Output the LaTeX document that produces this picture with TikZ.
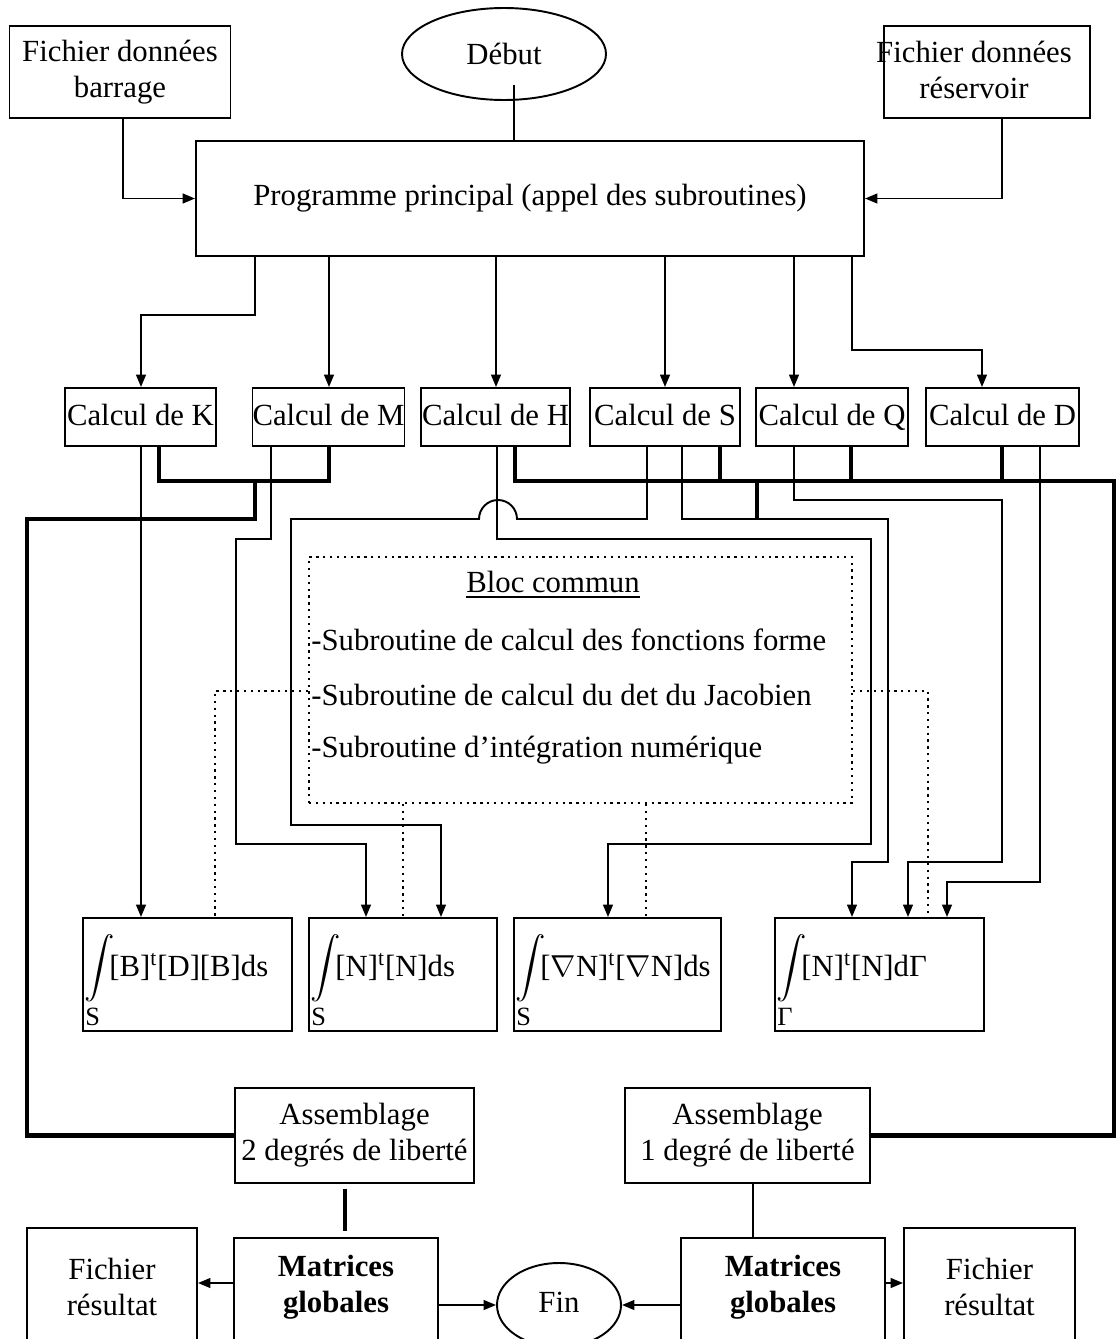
\documentclass[tikz,border=0pt]{standalone}
\usepackage{amsmath}
\usepackage{fontspec}
\setmainfont{Liberation Serif}
\usetikzlibrary{shapes.geometric,arrows.meta,calc}
\begin{document}
\begin{tikzpicture}[x=0.02cm,y=-0.02cm,
  every node/.style={font=\fontsize{17.5}{20.5}\selectfont},
  box/.style={draw, line width=1.1pt, inner sep=0pt, align=center},
  calcbox/.style={box, minimum height=58*0.02cm, text height=0.95em, text depth=0em},
  conn/.style={line width=1.1pt},
  arr/.style={line width=1.1pt, -{Triangle[length=7pt,width=5.5pt]}},
  bold/.style={line width=2.8pt},
  dotl/.style={line width=1.3pt, dash pattern=on 1.3pt off 2.6pt},
  txt/.style={inner sep=0pt, align=center},
  sub/.style={anchor=west, inner sep=0pt, font=\fontsize{15}{15}\selectfont}
]
\useasboundingbox (0,0) rectangle (1117,1339);
\clip (0,0) rectangle (1117,1339);

% top row
\node[box, minimum width=221*0.02cm, minimum height=92*0.02cm] (bar) at (120,72) {Fichier données\\barrage};
\node[ellipse, draw, line width=1.1pt, inner sep=0pt, minimum width=204*0.02cm, minimum height=92*0.02cm] (deb) at (504,54) {Début};
\node[box, minimum width=206*0.02cm, minimum height=92*0.02cm] (res) at (987,72) {};
\node[txt] (rest) at (974,70) {Fichier données\\réservoir};
\node[box, minimum width=668*0.02cm, minimum height=115*0.02cm] (prog) at (530,198.5) {Programme principal (appel des subroutines)};

% calcul row
\node[calcbox, minimum width=151*0.02cm] (K) at (140.5,417) {Calcul de K};
\node[calcbox, minimum width=149*0.02cm] (M) at (328.5,417) {Calcul de M};
\node[calcbox, minimum width=149*0.02cm] (H) at (495.5,417) {Calcul de H};
\node[calcbox, minimum width=150*0.02cm] (S) at (665,417) {Calcul de S};
\node[calcbox, minimum width=152*0.02cm] (Q) at (832,417) {Calcul de Q};
\node[calcbox, minimum width=153*0.02cm] (D) at (1002.5,417) {Calcul de D};

% bloc commun
\node[draw, dotl, inner sep=0pt, minimum width=543*0.02cm, minimum height=246*0.02cm] (bloc) at (580.5,680) {};
\node[txt] (bt) at (553,585) {\underline{Bloc commun}};
\node[anchor=west, inner sep=0pt] (l1) at (311,640) {-Subroutine de calcul des fonctions forme};
\node[anchor=west, inner sep=0pt] (l2) at (311,695) {-Subroutine de calcul du det du Jacobien};
\node[anchor=west, inner sep=0pt] (l3) at (311,750) {-Subroutine d'intégration numérique};

% integral boxes
\node[box, minimum width=209*0.02cm, minimum height=113*0.02cm] (B1) at (187.5,974.5) {};
\node[box, minimum width=188*0.02cm, minimum height=113*0.02cm] (B2) at (403,974.5) {};
\node[box, minimum width=207*0.02cm, minimum height=113*0.02cm] (B3) at (617.5,974.5) {};
\node[box, minimum width=209*0.02cm, minimum height=113*0.02cm] (B4) at (879.5,974.5) {};
\node[anchor=west, inner sep=0pt] (B1t) at ($(B1.west)+(2,-6)$) {$\displaystyle\int$\kern-3pt[B]\textsuperscript{t}[D][B]ds};
\node[anchor=west, inner sep=0pt] (B2t) at ($(B2.west)+(2,-6)$) {$\displaystyle\int$\kern-3pt[N]\textsuperscript{t}[N]ds};
\node[anchor=west, inner sep=0pt] (B3t) at ($(B3.west)+(2,-6)$) {$\displaystyle\int$\kern-3pt[$\nabla$N]\textsuperscript{t}[$\nabla$N]ds};
\node[anchor=west, inner sep=0pt] (B4t) at ($(B4.west)+(2,-6)$) {$\displaystyle\int$\kern-3pt[N]\textsuperscript{t}[N]dΓ};
\node[sub] (B1s) at ($(B1.south west)+(3,-15)$) {S};
\node[sub] (B2s) at ($(B2.south west)+(3,-15)$) {S};
\node[sub] (B3s) at ($(B3.south west)+(3,-15)$) {S};
\node[sub] (B4s) at ($(B4.south west)+(3,-15)$) {Γ};

% assemblage
\node[box, minimum width=239*0.02cm, minimum height=95*0.02cm] (asm2) at (354.5,1135.5) {Assemblage\\2 degrés de liberté};
\node[box, minimum width=245*0.02cm, minimum height=95*0.02cm] (asm1) at (747.5,1135.5) {Assemblage\\1 degré de liberté};

% bottom row
\node[box, minimum width=170*0.02cm, minimum height=137*0.02cm] (FL) at (112,1296.5) {};
\node[txt] (FLt) at (112,1287) {Fichier\\résultat};
\node[box, minimum width=204*0.02cm, minimum height=127*0.02cm] (matL) at (336,1301.5) {};
\node[txt, font=\fontsize{17.5}{20.5}\selectfont\bfseries] (matLt) at (336,1287) {Matrices\\globales};
\node[ellipse, draw, line width=1.1pt, inner sep=0pt, minimum width=124*0.02cm, minimum height=84*0.02cm] (fin) at (559,1305) {};
\node[txt] (fint) at (559,1302) {Fin};
\node[box, minimum width=204*0.02cm, minimum height=127*0.02cm] (matR) at (783,1301.5) {};
\node[txt, font=\fontsize{17.5}{20.5}\selectfont\bfseries] (matRt) at (783,1287) {Matrices\\globales};
\node[box, minimum width=171*0.02cm, minimum height=137*0.02cm] (FR) at (989.5,1296.5) {};
\node[txt] (FRt) at (989.5,1287) {Fichier\\résultat};

% top connectors
\draw[conn] ($(deb.south -| 514,0)+(0,-16)$) -- (prog.north -| 514,0);
\draw[arr] (bar.south -| 123,0) |- (prog.west);
\draw[arr] (res.south -| 1002,0) |- (prog.east);
\draw[arr] (prog.south -| 255,0) |- (141,315) -- (K.north -| 141,0);
\draw[arr] (prog.south -| 329,0) -- (M.north -| 329,0);
\draw[arr] (prog.south -| 496,0) -- (H.north -| 496,0);
\draw[arr] (prog.south -| 665,0) -- (S.north -| 665,0);
\draw[arr] (prog.south -| 794,0) -- (Q.north -| 794,0);
\draw[arr] (prog.south -| 852,0) |- (982,350) -- (D.north -| 982,0);

% bold connectors to assemblage
\coordinate (jA) at (255,481);
\coordinate (jB) at (757,481);
\draw[bold] (K.south -| 159,0) |- (329,481) -- (M.south -| 329,0);
\draw[bold] (jA) |- (27,519) |- (asm2.west);
\draw[bold] (H.south -| 515,0) |- (1114,481) |- (asm1.east);
\draw[bold] (S.south -| 720,0) -- (720,481);
\draw[bold] (Q.south -| 851,0) -- (851,481);
\draw[bold] (D.south -| 1002,0) -- (1002,481);
\draw[bold] (jB) -- (757,519);

% thin connectors to integral boxes
\draw[arr] (K.south -| 141,0) -- (B1.north -| 141,0);
\draw[arr] (M.south -| 271,0) |- (236,539) |- (366,844) -- (B2.north -| 366,0);
\draw[arr] (S.south -| 647,0) |- (517,519) arc[start angle=0,end angle=180,radius=0.38cm] -- (291,519) |- (441,825) -- (B2.north -| 441,0);
\draw[arr] (H.south -| 497,0) |- (871,539) |- (608,844) -- (B3.north -| 608,0);
\draw[arr] (S.south -| 682,0) |- (888,519) |- (852,862) -- (B4.north -| 852,0);
\draw[arr] (Q.south -| 794,0) |- (1002,500) |- (908,862) -- (B4.north -| 908,0);
\draw[arr] (D.south -| 1040,0) |- (947,882) -- (B4.north -| 947,0);

% dotted links from bloc commun
\draw[dotl] (bloc.west |- 0,691) -| (B1.north -| 215,0);
\draw[dotl] (bloc.south -| 403,0) -- (B2.north -| 403,0);
\draw[dotl] (bloc.south -| 646,0) -- (B3.north -| 646,0);
\draw[dotl] (bloc.east |- 0,691) -| (B4.north -| 928,0);

% bottom connectors
\draw[bold] ($(asm2.south -| 345,0)+(0,5)$) -- ($(matL.north -| 345,0)+(0,-6)$);
\draw[line width=1.6pt] (asm1.south -| 753,0) -- (matR.north -| 753,0);
\draw[arr] (matL.west |- 0,1283) -- (FL.east |- 0,1283);
\draw[arr] (matL.east |- fin.west) -- (fin.west);
\draw[arr] (matR.west |- fin.east) -- (fin.east);
\draw[arr] (matR.east |- 0,1283) -- (FR.west |- 0,1283);
\end{tikzpicture}
\end{document}
